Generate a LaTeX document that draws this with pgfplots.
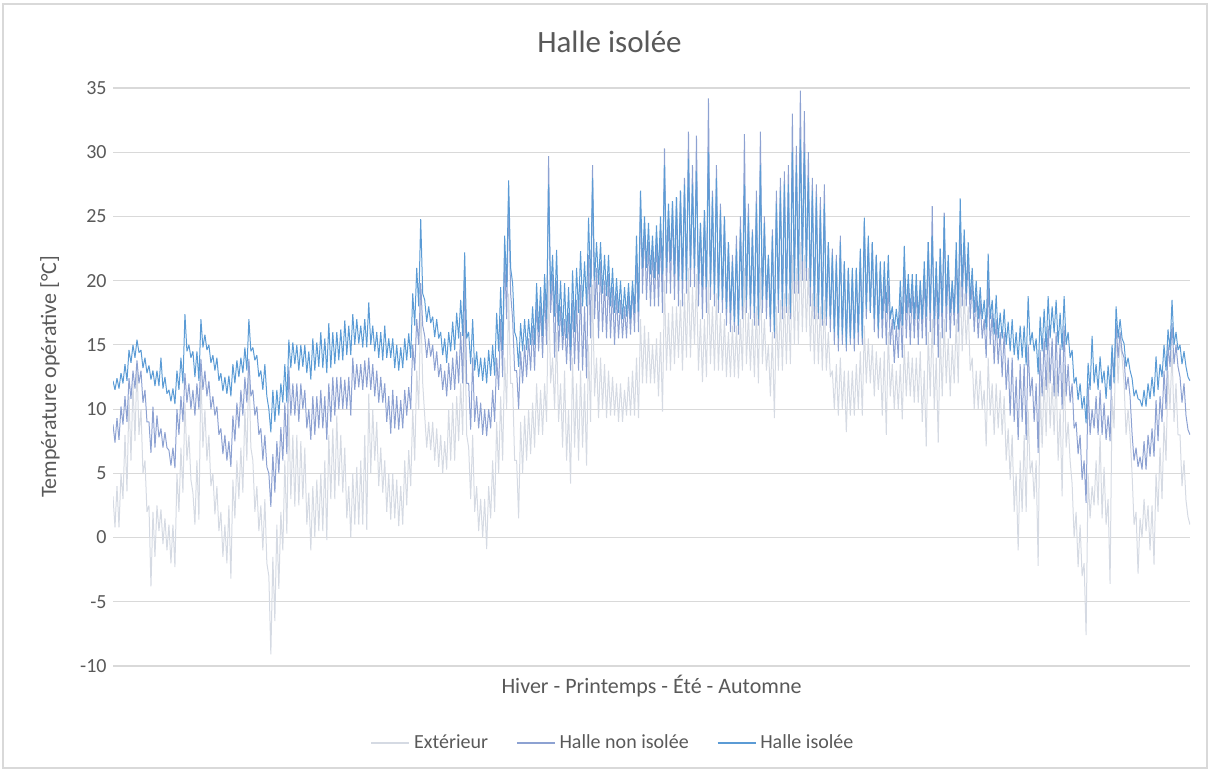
\documentclass[border=0pt]{standalone}
\usepackage{pgfplots}
\pgfplotsset{compat=1.18}
\usepackage{pgfplotstable}
\usepackage{fontspec}
\setmainfont{Carlito}
\definecolor{cext}{HTML}{D5DAE3}
\definecolor{cnon}{HTML}{8DA2D2}
\definecolor{ciso}{HTML}{5B9BD5}
\definecolor{cgrid}{HTML}{D9D9D9}
\definecolor{ctext}{HTML}{595959}

\pgfplotstableread{
ext non iso
3.2 8.8 12.2
0.8 7.4 11.5
4.0 9.3 12.4
0.8 7.6 11.6
5.0 10.2 12.8
3.0 8.8 12.0
8.0 11.0 13.5
3.6 9.0 12.2
11.0 12.4 14.6
6.0 10.8 13.6
12.0 13.0 15.0
7.5 11.6 14.0
13.5 13.8 15.4
8.0 12.0 14.4
10.0 13.0 14.6
5.0 10.5 13.2
6.0 11.5 14.0
2.0 9.0 12.8
2.5 9.0 13.4
-3.8 6.6 12.3
2.0 10.2 13.0
-1.5 7.0 11.8
2.5 9.5 13.0
0.5 7.8 11.8
2.2 8.5 14.0
-0.5 7.0 11.6
1.5 8.2 12.5
-1.0 7.0 11.2
1.0 6.8 11.5
-2.0 5.6 10.6
1.0 7.0 11.6
-2.3 5.4 10.4
5.0 10.0 13.0
2.0 8.0 11.5
7.0 11.0 14.0
3.5 9.0 12.0
10.5 12.8 17.4
6.0 10.5 14.5
8.0 12.0 15.0
4.5 10.0 14.0
3.5 11.5 14.5
1.0 9.5 12.5
6.0 12.0 14.5
1.4 10.0 12.2
12.8 13.9 17.0
7.0 11.5 14.8
10.0 13.0 15.8
6.0 11.0 14.6
8.0 12.2 15.0
4.0 10.0 13.6
5.0 11.0 14.2
1.8 9.5 13.0
4.0 10.2 14.0
0.5 8.0 12.2
2.0 8.5 12.8
-1.5 6.5 11.4
1.0 8.0 12.5
-2.0 6.0 11.2
2.5 7.5 12.6
-3.2 5.5 11.0
4.5 9.5 13.5
1.5 7.5 12.0
6.0 10.5 13.8
3.0 8.5 12.5
7.0 11.5 14.0
3.5 9.5 12.8
10.0 12.5 14.8
6.0 10.5 13.0
13.6 13.9 17.0
7.0 11.0 14.5
6.0 11.5 14.8
2.0 9.5 13.8
4.0 10.2 14.2
0.5 8.0 12.5
2.5 8.5 13.0
-1.0 6.0 11.5
3.0 8.0 13.5
-2.0 5.5 11.0
-3.0 5.0 10.0
-9.1 2.4 8.2
-1.5 6.5 11.5
-6.5 3.5 9.0
1.0 7.5 11.5
-4.0 5.0 9.5
2.0 8.6 12.0
-1.0 6.0 10.5
6.0 10.5 13.5
0.3 6.5 10.5
10.0 13.3 15.4
3.0 9.5 13.2
8.0 12.0 15.2
2.4 9.5 13.5
8.0 12.0 15.0
2.5 9.0 13.0
7.5 12.0 15.0
3.0 10.0 13.3
7.0 11.5 15.0
1.0 8.5 12.8
3.5 10.0 14.5
-1.0 7.6 12.3
4.0 11.0 15.5
0.0 8.0 13.0
4.5 11.0 15.2
0.5 8.5 13.3
5.0 11.5 16.0
0.5 8.5 13.2
6.0 11.0 15.5
-0.2 7.6 12.8
8.0 12.0 16.7
3.0 9.0 13.2
8.5 12.5 16.0
3.0 9.5 13.5
9.5 12.5 16.0
4.0 10.0 13.8
8.0 12.5 16.2
3.5 10.0 13.8
7.0 12.3 16.9
1.5 10.0 14.2
4.0 12.5 16.5
0.0 9.5 14.2
5.0 14.0 17.4
1.0 11.5 15.0
5.5 13.5 17.0
1.0 11.7 15.1
6.0 13.5 16.5
1.0 11.5 14.8
8.0 13.8 17.0
0.6 11.7 14.8
11.2 14.0 18.3
5.0 11.5 15.0
10.0 13.5 16.5
6.0 11.0 14.5
9.0 13.0 16.0
4.0 10.5 14.0
7.0 12.5 16.0
3.5 10.5 13.8
6.0 12.0 16.5
2.0 9.0 14.0
5.0 11.0 15.5
1.4 8.1 14.0
5.0 11.5 15.5
1.5 8.5 13.2
4.5 11.0 15.0
0.9 8.4 13.0
4.0 10.7 14.8
1.0 8.5 13.2
6.0 11.5 15.5
2.5 9.5 13.8
6.8 11.7 15.9
4.0 10.0 14.0
10.0 15.0 19.0
6.0 13.0 16.5
13.0 17.0 21.0
10.0 15.0 18.0
18.5 19.8 24.8
12.0 16.5 19.0
9.5 15.7 18.5
7.0 14.0 16.8
9.0 15.5 18.0
6.8 14.1 16.7
9.0 15.0 17.2
6.0 13.0 15.6
8.5 14.5 17.0
5.5 12.5 15.5
8.0 13.5 16.0
5.0 11.5 14.2
7.5 13.0 15.5
5.3 11.0 13.6
10.0 13.6 16.0
6.0 11.5 14.5
10.5 14.0 16.8
6.0 11.5 14.6
11.0 14.5 17.5
7.5 12.0 15.5
12.0 16.0 18.5
8.0 12.0 15.7
17.0 20.5 22.2
8.0 12.0 15.5
7.0 12.0 16.0
3.0 8.4 13.5
8.0 14.0 17.0
2.0 9.0 13.0
4.0 11.0 14.5
0.5 8.5 12.5
3.0 10.5 14.0
0.0 8.0 12.2
3.0 10.0 14.0
-0.9 7.9 12.0
4.0 10.0 14.6
1.5 8.5 12.6
6.0 11.5 15.0
2.0 9.0 12.6
9.0 14.0 17.5
5.0 11.5 14.5
11.0 17.0 19.5
6.0 12.5 14.6
14.0 22.0 23.5
10.0 17.0 19.5
19.0 26.5 27.8
12.0 19.0 21.0
12.0 17.0 19.8
6.0 13.0 16.0
6.0 13.0 15.5
1.5 10.0 13.3
9.0 14.5 16.7
5.0 12.0 14.5
9.5 15.0 17.0
6.0 12.5 14.6
10.0 15.5 17.0
6.5 13.0 15.0
10.5 16.5 18.0
7.0 13.0 15.0
12.0 18.5 19.8
8.0 14.5 16.0
11.5 18.0 19.5
8.0 14.0 15.7
12.0 19.0 20.5
9.0 15.0 17.0
20.0 29.7 27.5
12.0 17.5 19.0
14.0 20.5 22.0
10.0 14.0 17.2
16.0 20.0 22.4
9.0 14.5 16.5
12.0 18.0 20.0
7.0 14.6 15.7
13.0 17.0 19.8
6.0 13.5 15.5
10.0 17.5 19.5
4.2 13.0 14.6
14.0 18.5 20.8
7.0 13.5 16.0
12.0 18.5 21.0
6.0 13.0 17.5
13.0 19.7 22.3
7.0 13.0 18.0
12.0 18.0 21.5
5.6 12.4 18.0
15.0 22.0 24.9
9.0 15.5 19.5
19.7 29.0 28.0
11.0 17.0 20.0
14.0 21.0 23.0
9.3 15.5 19.7
14.0 21.5 23.0
10.0 16.0 19.0
13.5 20.0 22.0
9.3 15.5 18.8
13.0 20.5 22.0
9.5 15.5 18.0
12.5 19.5 21.0
9.5 15.0 17.5
12.0 19.0 20.2
9.0 15.5 17.5
12.0 18.5 20.0
9.0 15.5 17.0
11.5 18.0 19.5
9.5 15.5 17.2
12.5 19.0 19.8
9.5 15.8 17.0
13.0 19.5 20.0
9.5 16.0 17.5
14.0 22.0 23.5
9.3 16.0 17.6
17.0 26.5 27.0
12.0 19.0 21.0
16.5 24.5 25.0
12.0 18.5 21.0
16.0 23.0 24.5
12.0 18.0 20.5
15.0 22.5 23.5
12.0 18.0 20.2
15.5 23.5 24.3
11.0 18.0 20.5
16.0 24.0 25.0
9.8 17.5 20.5
20.0 30.3 29.0
13.0 19.0 21.0
17.5 25.5 26.0
13.0 19.0 21.5
18.0 26.0 26.2
13.5 18.5 20.5
18.0 26.5 26.5
14.0 18.0 20.0
18.5 27.0 27.0
13.0 18.0 20.0
19.0 28.0 27.5
14.0 19.0 20.0
21.0 31.6 29.5
14.0 19.5 21.0
19.5 29.0 27.5
15.0 19.5 21.0
20.5 31.3 28.5
13.0 18.0 20.0
17.0 24.5 24.5
12.1 17.0 19.5
17.0 25.5 25.5
12.5 17.5 19.5
20.0 34.2 30.0
13.5 18.5 19.5
18.0 27.0 26.5
13.0 18.0 19.0
19.0 29.0 28.0
13.0 17.5 18.5
17.5 26.0 25.5
13.0 17.5 18.5
17.0 25.0 25.0
12.5 16.5 17.8
16.0 23.0 23.0
12.5 16.0 17.5
16.5 22.0 21.5
12.5 16.0 16.8
16.5 23.5 22.5
12.4 15.8 16.5
17.0 25.0 24.0
13.0 17.0 18.0
21.0 31.4 27.5
13.5 17.5 18.5
17.5 26.0 25.0
13.0 17.0 18.0
17.0 24.0 23.8
12.5 16.5 17.5
18.0 27.0 26.0
12.0 16.5 17.0
21.0 31.6 29.0
13.5 17.5 18.5
17.0 25.0 24.5
13.0 17.0 18.5
15.0 22.0 22.0
11.0 16.0 17.0
16.0 24.0 23.5
9.3 15.5 16.0
18.0 27.0 26.0
13.0 17.5 18.5
18.5 28.0 27.0
13.0 17.0 18.0
19.0 28.5 27.5
13.5 17.5 18.0
19.0 29.0 27.5
13.5 17.0 17.5
22.0 33.0 30.0
15.0 19.0 20.0
21.0 30.5 29.0
15.0 19.0 20.0
23.0 34.8 31.0
16.0 20.0 21.5
22.0 33.2 30.0
16.0 20.0 21.0
21.0 30.0 28.0
14.5 18.0 19.5
19.0 28.0 27.0
13.5 17.0 18.0
19.0 27.5 26.5
13.5 17.0 17.5
18.0 26.5 25.5
13.0 16.5 17.0
18.5 27.5 26.0
13.0 16.5 17.2
16.0 23.0 23.0
12.5 16.0 17.0
13.0 22.5 22.0
10.0 15.0 16.0
13.5 22.0 21.5
9.5 14.5 15.5
14.0 23.5 23.0
10.0 15.0 15.8
13.0 21.5 21.5
8.2 14.5 15.0
13.0 21.0 21.0
9.5 15.0 15.5
13.0 20.5 21.0
9.5 14.5 15.5
13.5 21.0 21.0
10.0 15.0 16.0
14.5 22.0 22.5
9.5 15.0 15.5
16.5 24.5 24.9
12.0 17.0 17.8
15.5 23.0 23.5
12.0 17.5 17.5
15.0 23.0 23.0
11.0 16.0 17.0
14.5 22.0 22.0
11.5 15.5 16.2
14.0 21.0 21.5
9.5 15.5 17.0
14.5 20.0 21.5
8.0 15.0 17.5
16.0 20.0 22.0
11.0 15.0 17.0
13.5 17.0 18.0
10.0 13.6 16.2
13.0 16.5 17.8
10.0 14.0 16.2
13.5 18.5 20.0
9.2 14.0 16.5
15.0 21.0 22.7
11.0 15.5 17.5
14.5 19.5 20.5
11.0 15.0 17.5
14.0 19.5 20.5
10.5 15.5 17.0
14.0 19.5 20.5
10.5 15.0 17.0
14.5 20.0 20.0
9.0 15.5 17.0
13.0 20.5 21.5
7.1 15.0 17.2
16.0 23.0 23.0
11.0 16.0 17.5
17.0 25.8 23.5
10.0 15.0 17.0
14.0 21.0 21.5
7.4 14.0 17.0
16.0 22.5 22.5
11.0 15.5 17.5
17.0 25.3 25.0
12.0 16.0 18.0
15.5 21.5 22.0
11.0 15.5 17.5
15.0 20.0 20.0
12.0 16.5 17.5
17.0 22.0 23.0
12.0 16.0 17.5
20.0 24.5 26.4
14.5 18.0 19.5
19.0 23.0 24.0
15.0 18.0 19.0
18.0 22.0 23.0
13.0 17.0 18.5
14.0 20.0 21.0
10.0 16.0 17.5
13.0 19.0 20.0
10.0 15.5 17.0
13.0 18.5 19.5
10.0 15.5 17.0
11.5 17.0 18.5
7.1 14.0 16.2
14.0 20.0 22.1
9.5 15.0 17.0
12.0 17.5 18.5
8.0 13.5 15.8
12.0 17.0 18.9
8.5 13.5 15.5
11.5 16.0 17.5
8.0 12.5 15.5
11.0 16.0 17.8
6.0 11.5 15.0
8.5 14.0 16.8
4.5 9.5 14.5
8.0 14.0 17.0
2.0 9.0 14.2
5.0 12.5 16.0
-1.0 7.6 13.8
6.0 13.5 16.5
2.0 9.0 14.0
8.0 13.5 16.5
2.0 7.6 13.4
10.0 15.0 18.8
5.0 11.0 15.0
6.0 12.5 16.0
3.0 9.0 14.5
6.0 12.0 15.5
-2.2 6.6 12.7
12.0 14.6 17.2
7.0 11.0 14.5
12.5 15.5 17.8
7.9 11.5 14.6
14.0 16.5 18.8
8.5 12.0 15.5
12.0 15.5 18.0
8.0 11.0 15.9
13.0 16.0 18.5
6.0 11.0 15.0
10.0 15.0 17.5
3.2 10.0 14.6
13.5 16.5 18.8
7.0 11.0 15.0
9.0 13.5 16.0
6.0 10.5 14.0
4.2 12.0 14.6
0.0 8.5 12.0
2.0 9.0 12.5
-2.3 6.5 10.7
1.0 8.0 12.0
-3.0 4.5 10.0
-2.0 6.0 11.0
-7.6 2.7 8.9
5.0 12.0 13.6
1.5 8.0 11.5
4.0 10.0 15.7
2.5 8.5 12.0
6.0 11.0 13.5
2.5 8.0 11.5
8.0 11.5 14.1
1.5 8.0 12.0
5.5 10.5 13.0
1.0 7.6 10.8
3.0 9.5 13.4
-3.6 7.5 11.5
11.0 14.5 15.0
8.5 12.5 12.0
16.7 16.7 18.0
12.0 14.0 15.5
15.5 16.0 17.0
14.0 14.5 15.5
12.0 14.0 15.1
8.0 11.5 13.3
10.0 12.5 14.0
8.0 11.0 13.0
5.0 8.1 12.4
1.0 6.0 11.0
2.0 7.0 11.5
-2.8 5.5 10.8
1.5 6.3 10.7
0.0 5.3 10.2
3.0 7.5 11.5
0.5 5.3 10.2
2.5 8.0 12.0
-1.0 6.3 10.8
2.5 8.5 12.5
-2.1 6.3 11.0
5.0 10.7 14.1
2.0 7.5 11.5
7.0 11.0 13.5
3.0 9.0 12.5
9.0 13.0 15.0
6.0 10.0 13.0
13.0 15.0 16.2
10.0 13.3 14.6
14.6 16.7 18.5
9.0 13.5 15.0
12.0 15.0 16.0
8.0 13.3 14.6
8.0 12.5 15.0
4.0 10.5 13.5
6.0 12.0 14.5
2.9 9.5 13.3
1.6 8.4 12.5
1.0 8.0 12.2
}\data

\begin{document}
\begin{tikzpicture}[x=1pt,y=1pt]
\path[use as bounding box] (0,0) rectangle (605,385.5);
\draw[cgrid, line width=0.6pt] (1.5,1.5) rectangle (603.5,383.5);
\begin{axis}[
  at={(56.5pt,52.5pt)}, anchor=south west,
  width=538.5pt, height=289pt, scale only axis,
  xmin=0, xmax=269.5, ymin=-10, ymax=35,
  axis line style={draw=none},
  xtick=\empty,
  ytick={-10,-5,0,5,10,15,20,25,30,35},
  yticklabels={-10,-5,0,5,10,15,20,25,30,35},
  major tick length=0pt,
  ymajorgrids, grid style={cgrid, line width=0.6pt},
  yticklabel style={font=\fontsize{10}{12}\selectfont, text=ctext, inner sep=0pt, anchor=east, xshift=-3pt},
  every axis plot/.append style={line join=bevel, line width=0.5pt},
  legend style={at={(0.4652,-0.1332)}, anchor=center, draw=none, fill=none,
    font=\fontsize{10}{12}\selectfont, text=ctext,
    /tikz/every even column/.append style={column sep=12pt}},
  legend columns=3,
  legend image code/.code={\draw[#1, line width=0.75pt] (0pt,0pt) -- (19pt,0pt);},
]
\addplot[cext] table[x expr=\coordindex*0.5, y=ext] {\data};
\addlegendentry{Extérieur}
\addplot[cnon] table[x expr=\coordindex*0.5, y=non] {\data};
\addlegendentry{Halle non isolée}
\addplot[ciso] table[x expr=\coordindex*0.5, y=iso] {\data};
\addlegendentry{Halle isolée}
\end{axis}
\node[text=ctext, font=\fontsize{15.5}{18}\selectfont] at (304.75,364.5) {Halle isolée};
\node[text=ctext, font=\fontsize{11}{13}\selectfont] at (325.75,42.5) {Hiver - Printemps - Été - Automne};
\node[text=ctext, font=\fontsize{11}{13}\selectfont, rotate=90] at (25,197) {Température opérative [°C]};
\end{tikzpicture}
\end{document}
